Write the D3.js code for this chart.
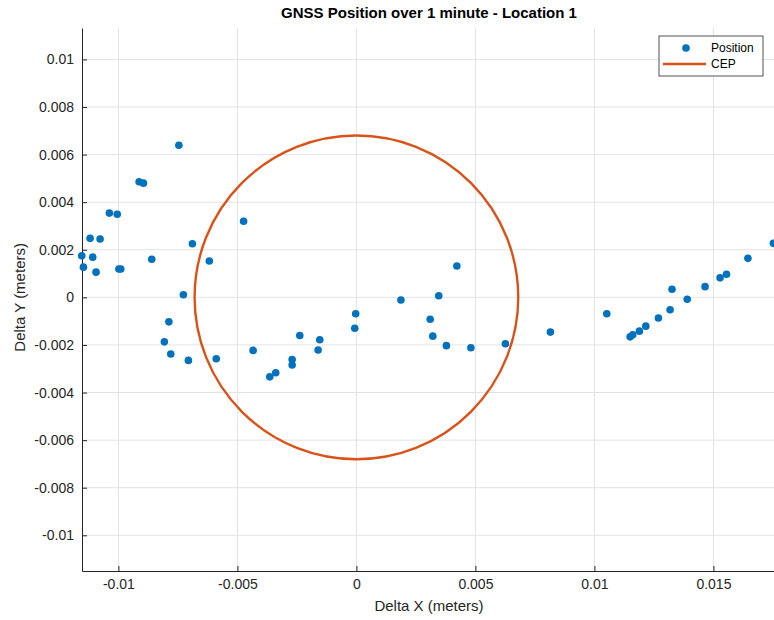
<!DOCTYPE html>
<html>
<head>
<meta charset="utf-8">
<script src="https://cdn.jsdelivr.net/npm/d3@7"></script>
<style>
  body { margin: 0; background: #fff; }
  svg { display: block; font-family: "Liberation Sans", Arial, sans-serif; }
</style>
</head>
<body>
<svg id="chart" width="774" height="620"></svg>
<script>
const width = 774;
const height = 620;
const margin = { top: 28, right: -2, bottom: 49, left: 82 };

// positions (meters)
const deltaX = [
  -0.00746, -0.00913, -0.00895, -0.01038, -0.01005, -0.00474, -0.01119, -0.01077,
  -0.00689, -0.01154, -0.01108, -0.00860, -0.00618, -0.01147, -0.01094, -0.00998,
  -0.00990, -0.00727, -0.00788, -0.00807, -0.00780, -0.00706, -0.00589, -0.00434,
  -0.00364, -0.00339, -0.00270, -0.00270, -0.00238, -0.00161, -0.00154, -0.00003,
  -0.00007, 0.00187, 0.00310, 0.00321, 0.00346, 0.00378, 0.00422, 0.00481,
  0.00626, 0.00815, 0.01052, 0.01150, 0.01161, 0.01189, 0.01216, 0.01269,
  0.01318, 0.01326, 0.01390, 0.01465, 0.01528, 0.01555, 0.01645, 0.01752
];
const deltaY = [
  0.00639, 0.00486, 0.00480, 0.00354, 0.00349, 0.00320, 0.00248, 0.00245,
  0.00225, 0.00175, 0.00169, 0.00160, 0.00153, 0.00127, 0.00106, 0.00119,
  0.00119, 0.00011, -0.00103, -0.00187, -0.00238, -0.00265, -0.00258, -0.00223,
  -0.00334, -0.00317, -0.00261, -0.00284, -0.00160, -0.00221, -0.00178, -0.00069,
  -0.00130, -0.00011, -0.00092, -0.00163, 0.00007, -0.00203, 0.00132, -0.00212,
  -0.00195, -0.00146, -0.00069, -0.00166, -0.00157, -0.00142, -0.00121, -0.00087,
  -0.00052, 0.00034, -0.00008, 0.00045, 0.00082, 0.00097, 0.00164, 0.00227
];
const cepRadius = 0.0068;

const xTicks = [-0.01, -0.005, 0, 0.005, 0.01, 0.015];
const yTicks = [-0.01, -0.008, -0.006, -0.004, -0.002, 0, 0.002, 0.004, 0.006, 0.008, 0.01];
const xDomain = [-0.01153, 0.01763];
const yDomain = [-0.0115, 0.01132];

const blue = "#0072bd";
const orange = "#d95319";
const axisColor = "#262626";

const svg = d3.select("#chart");
const innerW = width - margin.left - margin.right;
const innerH = height - margin.top - margin.bottom;

const x = d3.scaleLinear().domain(xDomain).range([margin.left, margin.left + innerW]);
const y = d3.scaleLinear().domain(yDomain).range([margin.top + innerH, margin.top]);

// grid
svg.append("g")
  .selectAll("line")
  .data(xTicks)
  .join("line")
  .attr("x1", d => x(d)).attr("x2", d => x(d))
  .attr("y1", margin.top).attr("y2", margin.top + innerH)
  .attr("stroke", "#e3e3e3").attr("stroke-width", 1);

svg.append("g")
  .selectAll("line")
  .data(yTicks)
  .join("line")
  .attr("x1", margin.left).attr("x2", margin.left + innerW)
  .attr("y1", d => y(d)).attr("y2", d => y(d))
  .attr("stroke", "#e3e3e3").attr("stroke-width", 1);

// axes (ticks pointing inward like MATLAB)
const fmt = d => (d === 0 ? "0" : d3.format("")(+d.toFixed(4)).replace("−", "-"));

const xAxis = svg.append("g")
  .attr("transform", `translate(0,${margin.top + innerH})`)
  .call(d3.axisBottom(x).tickValues(xTicks).tickFormat(fmt).tickSizeInner(-5).tickSizeOuter(0).tickPadding(8));
const yAxis = svg.append("g")
  .attr("transform", `translate(${margin.left},0)`)
  .call(d3.axisLeft(y).tickValues(yTicks).tickFormat(fmt).tickSizeInner(-5).tickSizeOuter(0).tickPadding(8));

[xAxis, yAxis].forEach(a => {
  a.select(".domain").attr("stroke", axisColor);
  a.selectAll(".tick line").attr("stroke", axisColor);
  a.selectAll(".tick text")
    .attr("fill", axisColor)
    .style("font-size", "14px")
    .style("font-family", "'Liberation Sans', Arial, sans-serif");
});

// CEP circle
svg.append("circle")
  .attr("cx", x(0))
  .attr("cy", y(0))
  .attr("r", x(cepRadius) - x(0))
  .attr("fill", "none")
  .attr("stroke", orange)
  .attr("stroke-width", 2.4);

// positions
svg.append("g")
  .selectAll("circle")
  .data(deltaX.map((d, i) => [d, deltaY[i]]))
  .join("circle")
  .attr("cx", d => x(d[0]))
  .attr("cy", d => y(d[1]))
  .attr("r", 3.8)
  .attr("fill", blue);

// title and labels
svg.append("text")
  .attr("x", margin.left + innerW / 2)
  .attr("y", 18)
  .attr("text-anchor", "middle")
  .attr("fill", "#000")
  .style("font-size", "15px")
  .style("font-weight", "bold")
  .text("GNSS Position over 1 minute - Location 1");

svg.append("text")
  .attr("x", margin.left + innerW / 2)
  .attr("y", 611)
  .attr("text-anchor", "middle")
  .attr("fill", axisColor)
  .style("font-size", "15px")
  .text("Delta X (meters)");

svg.append("text")
  .attr("transform", `translate(25,${y(0)}) rotate(-90)`)
  .attr("text-anchor", "middle")
  .attr("fill", axisColor)
  .style("font-size", "15px")
  .text("Delta Y (meters)");

// legend
const legend = svg.append("g").attr("transform", "translate(659,36)");
legend.append("rect")
  .attr("width", 104).attr("height", 40)
  .attr("fill", "#fff").attr("stroke", axisColor).attr("stroke-width", 0.8);
legend.append("circle").attr("cx", 27).attr("cy", 12).attr("r", 3.8).attr("fill", blue);
legend.append("line")
  .attr("x1", 4).attr("x2", 47).attr("y1", 28).attr("y2", 28)
  .attr("stroke", orange).attr("stroke-width", 2.4);
legend.selectAll("text.lbl")
  .data(["Position", "CEP"])
  .join("text")
  .attr("class", "lbl")
  .attr("x", 52)
  .attr("y", (d, i) => 16 + i * 16)
  .attr("fill", "#000")
  .style("font-size", "12px")
  .text(d => d);
</script>
</body>
</html>
